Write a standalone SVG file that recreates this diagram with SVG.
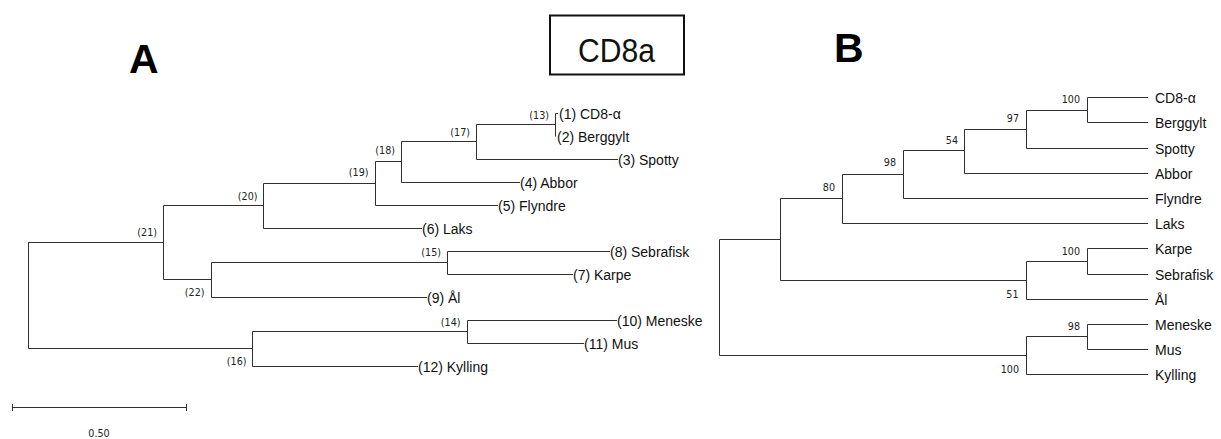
<svg xmlns="http://www.w3.org/2000/svg" width="1221" height="439" viewBox="0 0 1221 439">
<style>
.br{fill:none;stroke:#303030;stroke-width:1}
.leaf{font-family:"Liberation Sans",Arial,sans-serif;font-size:14px;fill:#111}
.nl{font-family:"DejaVu Sans","Liberation Sans",sans-serif;font-size:9.6px;fill:#222;text-anchor:end}
.big{font-family:"Liberation Sans",Arial,sans-serif;font-weight:bold;font-size:41px;fill:#000}
</style>
<rect width="1221" height="439" fill="#fff"/>

<g id="title-A"><text class="big" x="129" y="73">A</text></g>
<g id="title-B"><text class="big" x="834" y="62">B</text></g>
<g id="title-box">
<rect x="550" y="15.5" width="134" height="59" fill="#fff" stroke="#111" stroke-width="2"/>
<text x="578" y="61.5" font-family="'Liberation Sans',Arial,sans-serif" font-size="33" fill="#111" textLength="77" lengthAdjust="spacingAndGlyphs">CD8a</text>
</g>

<g id="connectors">
<!-- Tree A -->
<path class="br" d="M28.5,242 V348.5 M28.5,242.5 H163.5 M28.5,348.5 H252.5"/>
<path class="br" d="M163.5,205.5 V279.5 M163.5,205.5 H263.5 M163.5,279.5 H211.5"/>
<path class="br" d="M263.5,183.5 V228.5 M263.5,183.5 H375.5 M263.5,228.5 H422"/>
<path class="br" d="M375.5,161.5 V205.5 M375.5,161.5 H401.5 M375.5,205.5 H498"/>
<path class="br" d="M401.5,141.5 V182.5 M401.5,141.5 H476.5 M401.5,182.5 H520"/>
<path class="br" d="M476.5,124.5 V159.5 M476.5,124.5 H555.5 M476.5,159.5 H618"/>
<path class="br" d="M555.5,113.5 V136.5 M555.5,113.5 H558"/>
<path class="br" d="M211.5,262.5 V297.5 M211.5,262.5 H447.5 M211.5,297.5 H427"/>
<path class="br" d="M447.5,251.5 V274.5 M447.5,251.5 H610 M447.5,274.5 H573"/>
<path class="br" d="M252.5,331.5 V366.5 M252.5,331.5 H467.5 M252.5,366.5 H418"/>
<path class="br" d="M467.5,320.5 V343.5 M467.5,320.5 H617 M467.5,343.5 H584"/>
<!-- scale bar -->
<path class="br" d="M12,407.5 H187 M12.5,404 V411 M186.5,404 V411"/>
<!-- Tree B -->
<path class="br" d="M719.5,239.5 V355.5 M719.5,239.5 H780.5 M719.5,355.5 H1026.5"/>
<path class="br" d="M780.5,198.5 V280.5 M780.5,198.5 H842.5 M780.5,280.5 H1026.5"/>
<path class="br" d="M842.5,174.5 V223.5 M842.5,174.5 H903.5 M842.5,223.5 H1148"/>
<path class="br" d="M903.5,150.5 V198.5 M903.5,150.5 H964.5 M903.5,198.5 H1148"/>
<path class="br" d="M964.5,129.5 V173.5 M964.5,129.5 H1026.5 M964.5,173.5 H1148"/>
<path class="br" d="M1026.5,110.5 V148.5 M1026.5,110.5 H1087.5 M1026.5,148.5 H1148"/>
<path class="br" d="M1087.5,97.5 V122.5 M1087.5,97.5 H1148 M1087.5,122.5 H1148"/>
<path class="br" d="M1026.5,261.5 V299.5 M1026.5,261.5 H1087.5 M1026.5,299.5 H1148"/>
<path class="br" d="M1087.5,248.5 V274.5 M1087.5,248.5 H1148 M1087.5,274.5 H1148"/>
<path class="br" d="M1026.5,336.5 V374.5 M1026.5,336.5 H1087.5 M1026.5,374.5 H1148"/>
<path class="br" d="M1087.5,324.5 V349.5 M1087.5,324.5 H1148 M1087.5,349.5 H1148"/>
</g>

<!-- Tree A leaves -->
<g id="a-leaf-1"><text class="leaf" x="559" y="118.5">(1) CD8-α</text></g>
<g id="a-leaf-2"><text class="leaf" x="557" y="141.5">(2) Berggylt</text></g>
<g id="a-leaf-3"><text class="leaf" x="618" y="164.5">(3) Spotty</text></g>
<g id="a-leaf-4"><text class="leaf" x="520" y="187.5">(4) Abbor</text></g>
<g id="a-leaf-5"><text class="leaf" x="498" y="210.5">(5) Flyndre</text></g>
<g id="a-leaf-6"><text class="leaf" x="422" y="233.5">(6) Laks</text></g>
<g id="a-leaf-8"><text class="leaf" x="610" y="256.5">(8) Sebrafisk</text></g>
<g id="a-leaf-7"><text class="leaf" x="573" y="279.5">(7) Karpe</text></g>
<g id="a-leaf-9"><text class="leaf" x="427" y="302.5">(9) Ål</text></g>
<g id="a-leaf-10"><text class="leaf" x="617" y="325.5">(10) Meneske</text></g>
<g id="a-leaf-11"><text class="leaf" x="584" y="348.5">(11) Mus</text></g>
<g id="a-leaf-12"><text class="leaf" x="418" y="371.5">(12) Kylling</text></g>

<!-- Tree A internal node labels -->
<g id="a-node-13"><text class="nl" x="549" y="118.5">(13)</text></g>
<g id="a-node-17"><text class="nl" x="470" y="136">(17)</text></g>
<g id="a-node-18"><text class="nl" x="395" y="154">(18)</text></g>
<g id="a-node-19"><text class="nl" x="368.5" y="176">(19)</text></g>
<g id="a-node-20"><text class="nl" x="257.5" y="199.5">(20)</text></g>
<g id="a-node-21"><text class="nl" x="157" y="236">(21)</text></g>
<g id="a-node-22"><text class="nl" x="204.5" y="295.7">(22)</text></g>
<g id="a-node-15"><text class="nl" x="441" y="256">(15)</text></g>
<g id="a-node-14"><text class="nl" x="460.5" y="326">(14)</text></g>
<g id="a-node-16"><text class="nl" x="246.5" y="365">(16)</text></g>

<g id="scale-label"><text class="nl" x="99" y="437" style="text-anchor:middle">0.50</text></g>

<!-- Tree B leaves -->
<g id="b-leaf-cd8"><text class="leaf" x="1155" y="102.5">CD8-α</text></g>
<g id="b-leaf-berggylt"><text class="leaf" x="1155" y="127.5">Berggylt</text></g>
<g id="b-leaf-spotty"><text class="leaf" x="1155" y="153.5">Spotty</text></g>
<g id="b-leaf-abbor"><text class="leaf" x="1155" y="178.5">Abbor</text></g>
<g id="b-leaf-flyndre"><text class="leaf" x="1155" y="203.5">Flyndre</text></g>
<g id="b-leaf-laks"><text class="leaf" x="1155" y="228.5">Laks</text></g>
<g id="b-leaf-karpe"><text class="leaf" x="1155" y="253.5">Karpe</text></g>
<g id="b-leaf-sebrafisk"><text class="leaf" x="1155" y="279.5">Sebrafisk</text></g>
<g id="b-leaf-al"><text class="leaf" x="1155" y="304.5">Ål</text></g>
<g id="b-leaf-meneske"><text class="leaf" x="1155" y="329.5">Meneske</text></g>
<g id="b-leaf-mus"><text class="leaf" x="1155" y="354.5">Mus</text></g>
<g id="b-leaf-kylling"><text class="leaf" x="1155" y="379.5">Kylling</text></g>

<!-- Tree B bootstrap labels -->
<g id="b-node-100a"><text class="nl" x="1080" y="102.5">100</text></g>
<g id="b-node-97"><text class="nl" x="1019" y="121.5">97</text></g>
<g id="b-node-54"><text class="nl" x="958" y="143.5">54</text></g>
<g id="b-node-98a"><text class="nl" x="896" y="166">98</text></g>
<g id="b-node-80"><text class="nl" x="835" y="191">80</text></g>
<g id="b-node-100b"><text class="nl" x="1080" y="254.5">100</text></g>
<g id="b-node-51"><text class="nl" x="1018.5" y="297.5">51</text></g>
<g id="b-node-98b"><text class="nl" x="1080" y="330">98</text></g>
<g id="b-node-100c"><text class="nl" x="1019" y="372.5">100</text></g>
</svg>
